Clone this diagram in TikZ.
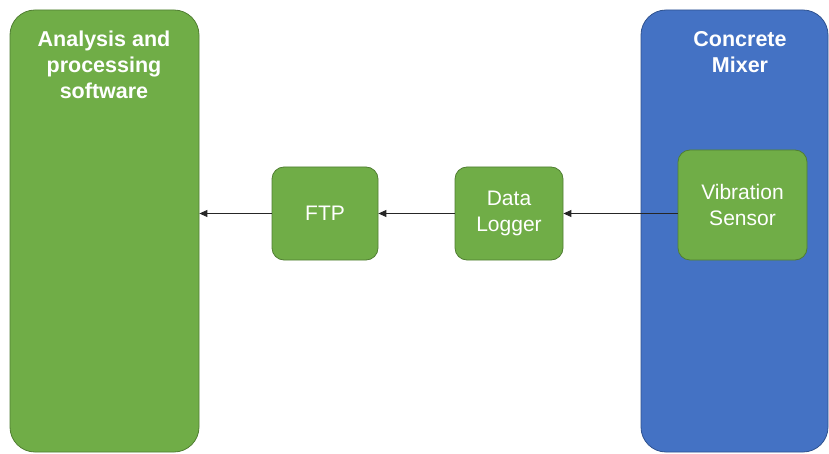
\documentclass[tikz,border=0pt]{standalone}
\usepackage{fontspec}
\setmainfont{Liberation Sans}
\usetikzlibrary{arrows.meta}
\definecolor{boxgreen}{HTML}{70AD47}
\definecolor{greenedge}{HTML}{507E32}
\definecolor{boxblue}{HTML}{4472C4}
\definecolor{blueedge}{HTML}{2F528F}
\definecolor{arrowgray}{HTML}{262626}
\tikzset{
  panel/.style={draw=#1edge, fill=box#1, line width=0.8pt, rounded corners=25pt, inner sep=0pt},
  unit/.style={draw=greenedge, fill=boxgreen, line width=0.8pt, rounded corners=12pt,
    text=white, align=center, font=\fontsize{21}{25.5}\selectfont, inner sep=0pt},
  title/.style={text=white, align=center, font=\fontsize{21.5}{26}\selectfont\bfseries},
  flow/.style={draw=arrowgray, line width=1pt, -{Triangle[length=8pt,width=7pt]}}
}
\begin{document}
\begin{tikzpicture}[x=1pt,y=-1pt]
\useasboundingbox (0,0) rectangle (829,454);
% outer panels
\node[panel=green, minimum width=189pt, minimum height=442pt] (soft) at (104.5,231) {};
\node[panel=blue, minimum width=187pt, minimum height=442pt] (mixer) at (734.5,231) {};
\node[title, anchor=north] (softtitle) at (104,27) {Analysis and\\processing\\software};
\node[title, anchor=north] (mixertitle) at (740,28) {Concrete\\Mixer};
% inner units
\node[unit, minimum width=106pt, minimum height=93pt] (ftp) at (325,213.5) {FTP};
\node[unit, minimum width=108pt, minimum height=93pt] (logger) at (509,213.5) {Data\\Logger};
\node[unit, minimum width=129pt, minimum height=110pt] (sensor) at (742.5,205) {Vibration\\Sensor};
% data flow
\draw[flow] (sensor.west |- logger.east) -- (logger.east);
\draw[flow] (logger.west) -- (ftp.east);
\draw[flow] (ftp.west) -- (ftp.west -| soft.east);
\end{tikzpicture}
\end{document}
